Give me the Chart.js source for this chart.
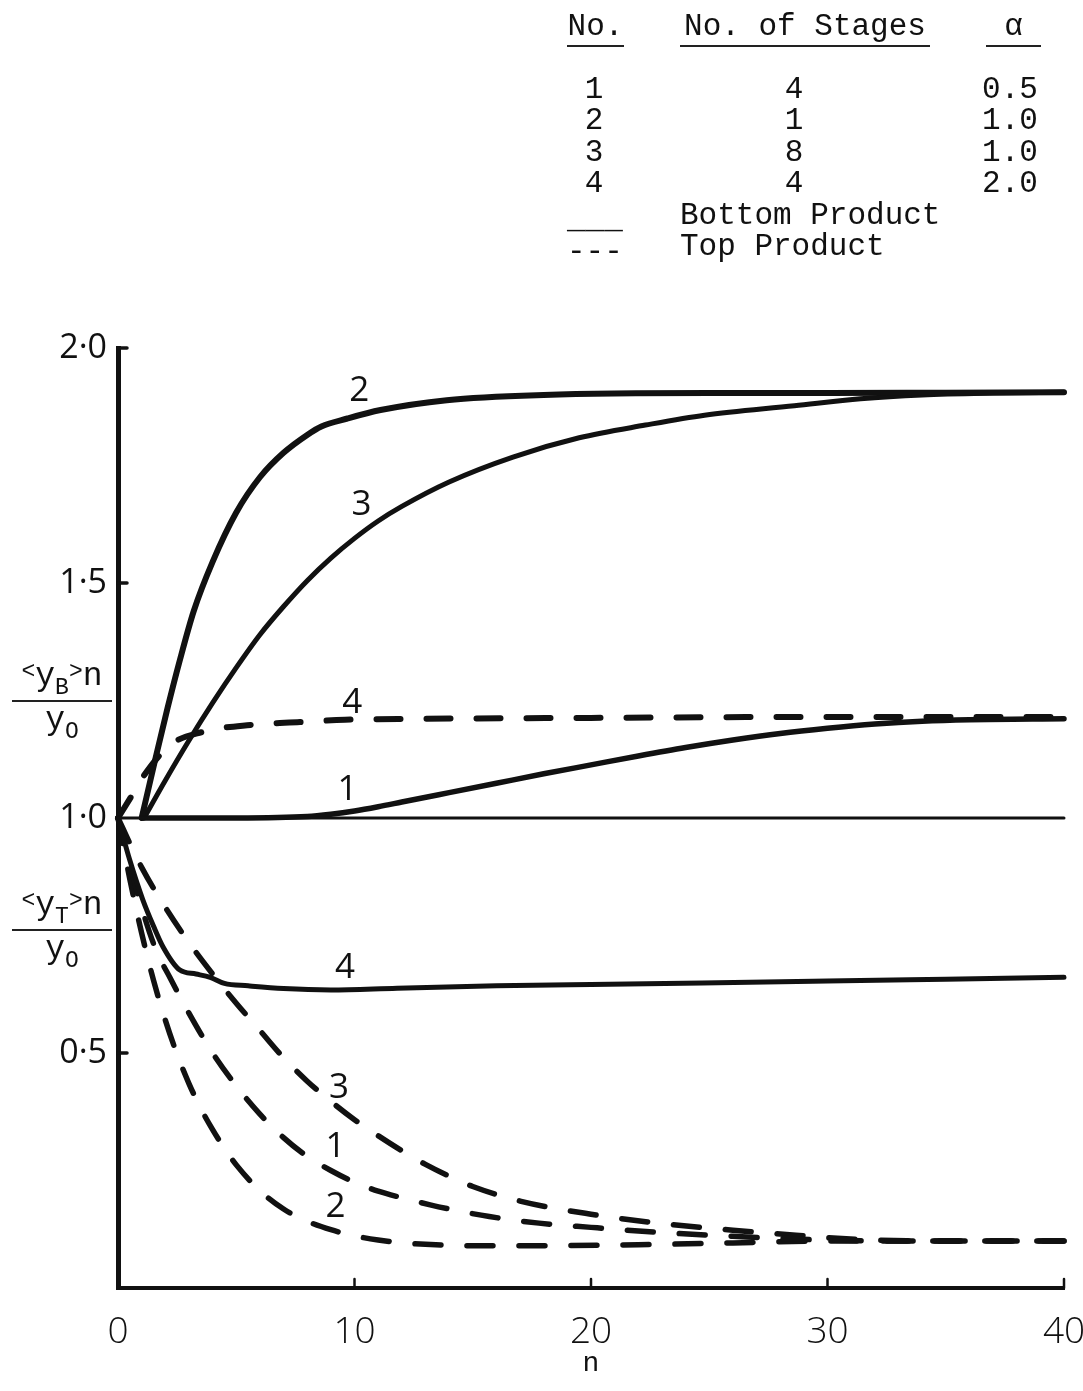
<!DOCTYPE html>
<html>
<head>
<meta charset="utf-8">
<script src="https://cdn.jsdelivr.net/npm/chart.js@4/dist/chart.umd.min.js"></script>
<style>
  html, body { margin: 0; padding: 0; background: #fff; }
  #wrap { position: relative; width: 1083px; height: 1391px; overflow: hidden; background: #fff; }
  #chart { position: absolute; left: 0; top: 0; }
  .mono { font-family: 'Liberation Mono', 'DejaVu Sans Mono', monospace; color: #111; }
  .cell { position: absolute; white-space: pre; font-size: 31px; line-height: 31px; }
  .ctr { transform: translateX(-50%); }
  .uline { border-bottom: 2px solid #222; text-align: center; padding-bottom: 3px; }
  .frac { position: absolute; left: 12px; width: 100px; text-align: center; }
  .frac .num, .frac .den { font-size: 33px; line-height: 34px; white-space: nowrap; }
  .frac .bar { border-top: 2px solid #222; margin: 4px 0 2px 0; }
  .frac .sm { font-size: 23px; position: relative; top: -7px; }
  .frac .sub { font-size: 23px; position: relative; top: 9px; }
</style>
</head>
<body>
<div id="wrap">
  <canvas id="chart" width="1083" height="1391"></canvas>
  <div id="legend" class="mono"></div>
  <div class="frac mono" style="top:660px;">
    <div class="num"><span class="sm">&lt;</span>y<span class="sub">B</span><span class="sm">&gt;</span>n</div>
    <div class="bar"></div>
    <div class="den">y<span class="sub">O</span></div>
  </div>
  <div class="frac mono" style="top:889px;">
    <div class="num"><span class="sm">&lt;</span>y<span class="sub">T</span><span class="sm">&gt;</span>n</div>
    <div class="bar"></div>
    <div class="den">y<span class="sub">O</span></div>
  </div>
</div>
<script>
// ---- table of runs ----
const runNo = ['1', '2', '3', '4'];
const runStages = ['4', '1', '8', '4'];
const runAlpha = ['0.5', '1.0', '1.0', '2.0'];

// ---- axis ticks ----
const xTickValues = [0, 10, 20, 30, 40];
const xTickLabels = ['0', '10', '20', '30', '40'];
const yTickValues = [0.5, 1.0, 1.5, 2.0];
const yTickLabels = ['0·5', '1·0', '1·5', '2·0'];

// ---- bottom product (solid) ----
const nB1 = [1, 5, 8, 9, 10, 11, 12, 14, 16, 18, 20, 22, 24, 26, 28, 30, 32, 34, 36, 40];
const yB1 = [1.0, 1.0, 1.003, 1.008, 1.015, 1.024, 1.034, 1.054, 1.074, 1.094, 1.113, 1.132, 1.15, 1.166, 1.18, 1.191, 1.2, 1.206, 1.209, 1.211];

const nB2 = [1, 1.6, 2.1, 2.6, 3.2, 4.0, 5, 6, 7, 8, 8.6, 9.7, 11.1, 13.9, 18, 25, 30, 35, 40];
const yB2 = [1.0, 1.13, 1.235, 1.333, 1.44, 1.545, 1.65, 1.725, 1.777, 1.815, 1.833, 1.85, 1.868, 1.889, 1.90, 1.904, 1.904, 1.905, 1.906];

const nB3 = [1.1, 2, 3, 4, 5, 6, 7, 8, 9, 10, 11, 12, 14, 16.7, 19.5, 22.3, 24.8, 28.6, 31.4, 34, 37, 40];
const yB3 = [1.0, 1.08, 1.165, 1.245, 1.32, 1.39, 1.45, 1.505, 1.553, 1.595, 1.632, 1.663, 1.715, 1.768, 1.809, 1.836, 1.857, 1.877, 1.892, 1.90, 1.904, 1.906];

const nB4 = [0, 0.5, 1.05, 1.5, 1.9, 2.6, 3.3, 3.9, 4.5, 5.5, 7, 9, 11.8, 16, 20, 24.7, 30, 35, 40];
const yB4 = [1.0, 0.91, 0.826, 0.77, 0.726, 0.677, 0.668, 0.661, 0.648, 0.643, 0.637, 0.634, 0.638, 0.643, 0.646, 0.649, 0.653, 0.657, 0.661];

// ---- top product (dashed) ----
const nT1 = [0, 1, 1.6, 2.2, 3, 4, 5, 6, 7, 8, 9, 10, 11, 12, 13.2, 14.3, 15.7, 17.8, 20, 23, 26, 30, 35, 40];
const yT1 = [1.0, 0.81, 0.72, 0.66, 0.585, 0.50, 0.43, 0.37, 0.32, 0.28, 0.25, 0.225, 0.206, 0.192, 0.177, 0.165, 0.152, 0.138, 0.129, 0.118, 0.11, 0.102, 0.10, 0.10];

const nT2 = [0, 0.5, 1, 1.5, 2, 2.5, 3, 3.5, 4, 4.5, 5, 6, 7, 8, 9, 10, 11, 12, 13, 15, 18, 22, 26, 30, 35, 40];
const yT2 = [1.0, 0.87, 0.755, 0.655, 0.57, 0.497, 0.435, 0.382, 0.337, 0.297, 0.262, 0.207, 0.168, 0.142, 0.124, 0.111, 0.102, 0.096, 0.093, 0.09, 0.09, 0.092, 0.096, 0.10, 0.10, 0.10];

const nT3 = [0, 1, 2, 3, 4, 5, 6, 7, 8, 9, 10, 11, 12, 13, 14, 15, 17, 20, 23, 26, 28, 30, 32, 35, 40];
const yT3 = [1.0, 0.895, 0.81, 0.735, 0.668, 0.606, 0.548, 0.49, 0.44, 0.397, 0.358, 0.324, 0.292, 0.263, 0.238, 0.216, 0.185, 0.157, 0.137, 0.123, 0.115, 0.107, 0.102, 0.10, 0.10];

const nT4 = [0, 0.55, 1.05, 2.2, 3.56, 5.6, 7.7, 9.6, 12.6, 20, 30, 40];
const yT4 = [1.0, 1.045, 1.087, 1.155, 1.183, 1.198, 1.204, 1.209, 1.211, 1.213, 1.215, 1.215];

// reference level y/yo = 1
const nRef = [0, 40];
const yRef = [1.0, 1.0];

// run numbers written beside the curves (data coordinates)
const curveTags = [
  { text: '2', n: 10.2, v: 1.909 },
  { text: '3', n: 10.3, v: 1.666 },
  { text: '4', n: 9.9, v: 1.245 },
  { text: '1', n: 9.7, v: 1.06 },
  { text: '4', n: 9.6, v: 0.681 },
  { text: '3', n: 9.35, v: 0.426 },
  { text: '1', n: 9.2, v: 0.30 },
  { text: '2', n: 9.2, v: 0.172 }
];

const INK = '#111';
const HAND = '"Open Sans", "DejaVu Sans", sans-serif';

// ---- legend block (HTML text) ----
(function buildLegend() {
  const box = document.getElementById('legend');
  const add = (txt, left, top, cls, width) => {
    const d = document.createElement('div');
    d.className = 'cell ' + (cls || '');
    d.textContent = txt;
    d.style.left = left + 'px';
    d.style.top = top + 'px';
    if (width) d.style.width = width + 'px';
    box.appendChild(d);
  };
  add('No.', 567, 11, 'uline', 57);
  add('No. of Stages', 680, 11, 'uline', 250);
  add('α', 986, 11, 'uline', 55);
  const rowTop = [74, 105, 137, 168];
  runNo.forEach((v, i) => {
    add(v, 594, rowTop[i], 'ctr');
    add(runStages[i], 794, rowTop[i], 'ctr');
    add(runAlpha[i], 1010, rowTop[i], 'ctr');
  });
  add('___', 567, 204);
  add('Bottom Product', 680, 200);
  add('---', 567, 236);
  add('Top Product', 680, 231);
})();

const line = (label, xs, ys, width, dash) => ({
  label,
  data: xs.map((x, i) => ({ x, y: ys[i] })),
  borderColor: INK,
  backgroundColor: INK,
  borderWidth: width,
  borderDash: dash || [],
  borderCapStyle: 'round',
  borderJoinStyle: 'round',
  pointRadius: 0,
  fill: false,
  cubicInterpolationMode: 'monotone',
  clip: false
});

const inwardTicks = {
  id: 'inwardTicks',
  afterDraw(chart) {
    const { ctx, chartArea: a, scales: { x, y } } = chart;
    ctx.save();
    ctx.strokeStyle = INK;
    ctx.lineCap = 'round';
    ctx.lineWidth = 2.5;
    xTickValues.forEach(v => {
      if (v === 0) return;
      const px = x.getPixelForValue(v);
      ctx.beginPath();
      ctx.moveTo(px, a.bottom);
      ctx.lineTo(px, a.bottom - 9);
      ctx.stroke();
    });
    ctx.lineWidth = 3.5;
    yTickValues.forEach(v => {
      if (v === 1.0) return;
      const py = y.getPixelForValue(v);
      ctx.beginPath();
      ctx.moveTo(a.left, py);
      ctx.lineTo(a.left + 9, py);
      ctx.stroke();
    });
    ctx.restore();
  }
};

const tagPlugin = {
  id: 'curveTags',
  afterDatasetsDraw(chart) {
    const { ctx, scales: { x, y } } = chart;
    ctx.save();
    ctx.fillStyle = INK;
    ctx.font = '400 35px ' + HAND;
    ctx.textAlign = 'center';
    ctx.textBaseline = 'middle';
    curveTags.forEach(t => {
      ctx.fillText(t.text, x.getPixelForValue(t.n), y.getPixelForValue(t.v));
    });
    ctx.restore();
  }
};

new Chart(document.getElementById('chart'), {
  type: 'line',
  data: {
    datasets: [
      line('reference', nRef, yRef, 3),
      line('bottom 1', nB1, yB1, 5.5),
      line('bottom 2', nB2, yB2, 6),
      line('bottom 3', nB3, yB3, 5),
      line('bottom 4', nB4, yB4, 5),
      line('top 1', nT1, yT1, 5.5, [26, 26]),
      line('top 2', nT2, yT2, 5.5, [26, 26]),
      line('top 3', nT3, yT3, 5.5, [26, 26]),
      line('top 4', nT4, yT4, 6, [24, 26])
    ]
  },
  options: {
    responsive: false,
    animation: false,
    events: [],
    layout: { padding: { top: 348, right: 19, bottom: 0, left: 0 } },
    plugins: { legend: { display: false }, tooltip: { enabled: false } },
    scales: {
      x: {
        type: 'linear',
        min: 0,
        max: 40,
        grid: { display: false, drawTicks: false },
        border: { display: true, width: 4, color: INK },
        afterBuildTicks: s => { s.ticks = xTickValues.map(v => ({ value: v })); },
        afterFit: s => { s.height = 103; s.paddingLeft = 0; s.paddingRight = 0; },
        ticks: {
          color: INK,
          padding: 22,
          maxRotation: 0,
          autoSkip: false,
          font: { family: HAND, size: 37, weight: '300' },
          callback: (v, i) => xTickLabels[i]
        },
        title: {
          display: true,
          text: 'n',
          color: INK,
          font: { family: "'Liberation Mono', monospace", size: 28 },
          padding: { top: 0, bottom: 11 }
        }
      },
      y: {
        type: 'linear',
        min: 0,
        max: 2.0,
        grid: { display: false, drawTicks: false },
        border: { display: true, width: 5, color: INK },
        afterBuildTicks: s => { s.ticks = yTickValues.map(v => ({ value: v })); },
        afterFit: s => { s.width = 118; s.paddingTop = 0; s.paddingBottom = 0; },
        ticks: {
          color: INK,
          padding: 11,
          autoSkip: false,
          font: { family: HAND, size: 34, weight: '400' },
          callback: (v, i) => yTickLabels[i]
        }
      }
    }
  },
  plugins: [inwardTicks, tagPlugin]
});
</script>
</body>
</html>
